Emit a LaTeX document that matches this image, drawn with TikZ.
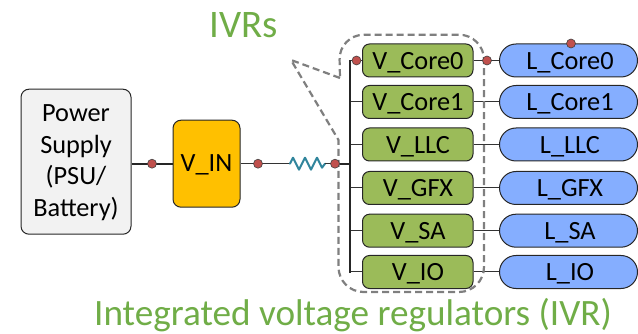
\documentclass[tikz,border=0pt]{standalone}
\usepackage{fontspec}
\setmainfont{Carlito}
\definecolor{vgreen}{HTML}{9BBB59}
\definecolor{lblue}{HTML}{85AEFF}
\definecolor{psugray}{HTML}{F2F2F2}
\definecolor{vinor}{HTML}{FFC000}
\definecolor{dotred}{HTML}{C0504D}
\definecolor{txtgreen}{HTML}{70AD47}
\definecolor{resteal}{HTML}{31859C}
\definecolor{dashgray}{HTML}{7F7F7F}
\tikzset{
  x=1pt,y=-1pt,
  lbl/.style={font=\fontsize{26.3}{31.7}\selectfont,text=black,inner sep=0pt,align=center,anchor=base},
  vbox/.style={draw=black!85,line width=1pt,fill=vgreen,rounded corners=7pt,minimum width=110.5pt,minimum height=33pt},
  lbox/.style={draw=black!85,line width=1pt,fill=lblue,rounded corners=16.5pt,minimum width=138pt,minimum height=33pt},
  wire/.style={draw=black!80,line width=1pt},
  thick wire/.style={draw=black!85,line width=2.3pt},
  probe/.style={circle,fill=dotred,draw=black!75,line width=.6pt,minimum size=9pt,inner sep=0pt},
  biglbl/.style={text=txtgreen,inner sep=0pt,anchor=base},
}
\begin{document}
\begin{tikzpicture}
\useasboundingbox (0,0) rectangle (638,334);
% nodes
\node[draw=black!85,line width=1pt,fill=psugray,rounded corners=8pt,minimum width=110pt,minimum height=145pt] (psu) at (76,161.7) {};
\node[lbl] (psut) at (76,216.7) {Power\\Supply\\(PSU/\\Battery)};
\node[draw=black!85,line width=1pt,fill=vinor,rounded corners=8pt,minimum width=67pt,minimum height=87pt] (vin) at (206.5,163.7) {};
\node[lbl] (vint) at (206.5,171.7) {V\_IN};
\coordinate (busin) at (350,163.7);
\coordinate (rl) at (290,163.7);
\coordinate (rr) at (325,163.7);
\coordinate (bustop) at (350,60.5);
\coordinate (busbot) at (350,272);
\foreach \n/\t/\y in {a/Core0/60.5,b/Core1/102,c/LLC/144.5,d/GFX/188,e/SA/230.7,f/IO/272}{
  \node[vbox] (v\n) at (417.75,\y) {};
  \node[lbox] (l\n) at (568.5,\y) {};
  \node[lbl] (vt\n) at (418,\y+8.8) {V\_\t};
  \node[lbl] (lt\n) at (570,\y+8.8) {L\_\t};
  \draw[wire] (v\n.east) -- (l\n.west);
  \draw[wire] (v\n.west) -- (v\n.west -| bustop);
}
\draw[thick wire] (psu.east |- vin.west) -- (vin.west);
\draw[wire] (vin.east) -- (rl);
\draw[resteal,line width=2pt,line join=round,line cap=round] (rl) -- ++(3,-6) -- ++(6,12) -- ++(6,-12) -- ++(6,12) -- ++(6,-12) -- ++(5,10) -- (rr);
\draw[wire] (rr) -- (busin);
\draw[thick wire] (335,163.7) -- (busin);
\draw[thick wire,line width=1.6pt,line cap=rect] (bustop) -- (busbot);
% IVR callout
\draw[dashgray,line width=2.2pt,dash pattern=on 7pt off 4pt]
  (340,78) -- (291,60) -- (338.5,140) [rounded corners=25pt] -- (338.5,292) -- (484,292) -- (484,34.7) -- (339,34.7) -- (340,78);
\node[probe] (p1) at (152,163.7) {};
\node[probe] (p2) at (258,163.7) {};
\node[probe] (p3) at (335,163.7) {};
\node[probe] (p4) at (356.5,60.5) {};
\node[probe] (p5) at (487,60.5) {};
\node[probe] (p6) at (571,43.5) {};
\node[biglbl,font=\fontsize{39}{42}\selectfont] (ivrs) at (244,38) {IVRs};
\node[biglbl,font=\fontsize{37.2}{40}\selectfont] (ivrlong) at (353,325.5) {Integrated voltage regulators (IVR)};
\end{tikzpicture}
\end{document}
